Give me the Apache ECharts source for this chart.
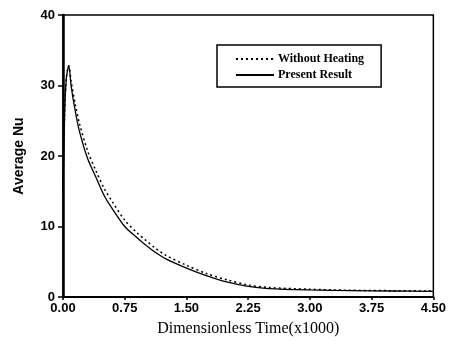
<!DOCTYPE html>
<html>
<head>
<meta charset="utf-8">
<script src="https://cdn.jsdelivr.net/npm/echarts@6/dist/echarts.min.js"></script>
<style>
  html, body { margin: 0; padding: 0; background: #fff; }
  #chart { width: 449px; height: 344px; }
</style>
</head>
<body>
<div id="chart"></div>
<script>
// time (x1000)
const times = [0, 0.02, 0.04, 0.07, 0.1, 0.15, 0.2, 0.3, 0.4, 0.5, 0.6, 0.75, 0.9, 1.0, 1.125, 1.25, 1.5, 1.75, 2.0, 2.25, 2.5, 3.0, 3.5, 4.0, 4.5];
// average Nu, present result (solid)
const presentResult = [15, 26, 31, 32.8, 29.8, 26.3, 23.5, 19.6, 17.0, 14.4, 12.5, 10.0, 8.4, 7.4, 6.3, 5.4, 4.1, 3.0, 2.1, 1.5, 1.2, 1.0, 0.9, 0.85, 0.8];
// average Nu, without heating (dotted)
const withoutHeating = [15, 26, 31, 32.8, 30.5, 27.3, 24.6, 20.7, 17.9, 15.4, 13.5, 10.9, 9.1, 8.1, 6.9, 5.9, 4.5, 3.3, 2.4, 1.7, 1.35, 1.1, 0.95, 0.9, 0.85];

const chart = echarts.init(document.getElementById('chart'));

function pairs(ys) {
  return times.map((t, i) => [t, ys[i]]);
}

chart.setOption({
  animation: false,
  grid: {
    left: 63, right: 15, top: 15, bottom: 47,
    show: true, borderColor: '#000', borderWidth: 1.5, backgroundColor: 'transparent'
  },
  legend: {
    orient: 'vertical',
    left: 217, top: 45,
    padding: [8, 17, 6, 18],
    itemGap: 4,
    itemWidth: 38, itemHeight: 14,
    borderColor: '#000', borderWidth: 1.5,
    // hide the circle that line series add to their legend icon
    itemStyle: { color: 'transparent', borderWidth: 0, borderColor: 'transparent' },
    textStyle: { fontFamily: 'Liberation Serif', fontWeight: 'bold', fontSize: 12, color: '#000', padding: [0, 0, 0, -1] },
    data: ['Without Heating', 'Present Result']
  },
  xAxis: {
    type: 'value',
    min: 0, max: 4.5, interval: 0.75,
    name: 'Dimensionless Time(x1000)',
    nameLocation: 'middle',
    nameGap: 24,
    nameTextStyle: { fontFamily: 'Liberation Serif', fontSize: 16, color: '#000' },
    axisLine: { lineStyle: { color: '#000', width: 2 } },
    axisTick: { inside: false, length: 3, lineStyle: { color: '#000', width: 1.5 } },
    axisLabel: {
      fontFamily: 'Liberation Sans', fontWeight: 'bold', fontSize: 13, color: '#000', margin: 5,
      formatter: v => v.toFixed(2)
    },
    splitLine: { show: false }
  },
  yAxis: {
    type: 'value',
    min: 0, max: 40, interval: 10,
    name: 'Average Nu',
    nameLocation: 'middle',
    nameGap: 37,
    nameTextStyle: { fontFamily: 'Liberation Sans', fontWeight: 'bold', fontSize: 14, color: '#000' },
    axisLine: { lineStyle: { color: '#000', width: 2.5 } },
    axisTick: { length: 5, lineStyle: { color: '#000', width: 1.5 } },
    axisLabel: { fontFamily: 'Liberation Sans', fontWeight: 'bold', fontSize: 13, color: '#000', margin: 8 },
    splitLine: { show: false }
  },
  series: [
    {
      name: 'Without Heating',
      type: 'line',
      data: pairs(withoutHeating),
      smooth: 0.3,
      showSymbol: false,
      symbol: 'none',
      lineStyle: { color: '#000', width: 1.5, type: [2, 3] },
      itemStyle: { color: '#000' }
    },
    {
      name: 'Present Result',
      type: 'line',
      data: pairs(presentResult),
      smooth: 0.3,
      showSymbol: false,
      symbol: 'none',
      lineStyle: { color: '#000', width: 1.3 },
      itemStyle: { color: '#000' }
    }
  ]
});
</script>
</body>
</html>
